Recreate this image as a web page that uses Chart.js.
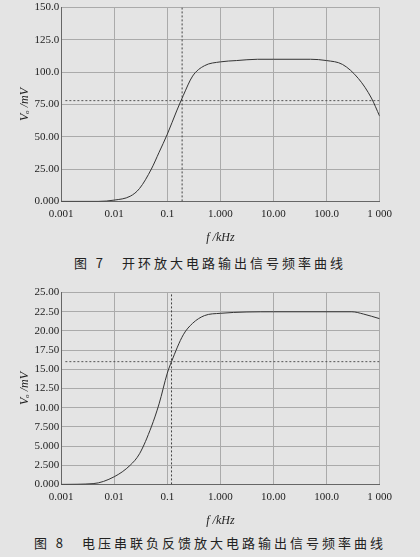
<!DOCTYPE html><html><head><meta charset="utf-8">
<script src="https://cdn.jsdelivr.net/npm/chart.js@4"></script>
<style>
body{margin:0;background:#e4e4e4;width:420px;height:557px;overflow:hidden;font-family:"Liberation Serif",serif;}
.c{position:absolute;left:0;width:398px;}
.cap{position:absolute;left:0;width:420px;text-align:center;font-family:"Noto Sans CJK SC";font-size:13px;color:#222;letter-spacing:3px}
</style></head><body>
<div class="c" style="top:-1px;height:250px"><canvas id="c1"></canvas></div>
<div class="cap" style="top:253px">图 7　开环放大电路输出信号频率曲线</div>
<div class="c" style="top:284px;height:248px"><canvas id="c2"></canvas></div>
<div class="cap" style="top:533px">图 8　电压串联负反馈放大电路输出信号频率曲线</div>
<script>
const freq1=[0.001,0.005,0.01,0.02,0.03,0.05,0.07,0.1,0.15,0.2,0.3,0.5,1,2,5,10,50,100,200,400,700,1000];
const volt1=[0,0,1,4,10,25,38,52,70,82,97,105,108,109,110,110,110,109,106,95,80,66];
const freq2=[0.001,0.004,0.01,0.02,0.03,0.05,0.07,0.1,0.12,0.2,0.3,0.5,1,10,300,500,1000];
const volt2=[0,0.1,1,2.5,4,7.5,10.5,14.5,16,19.5,21,22,22.3,22.5,22.5,22.2,21.6];
const xTicks=[0.001,0.01,0.1,1,10,100,1000];
const xLabels=["0.001","0.01","0.1","1.000","10.00","100.0","1 000"];
const yTicks1=["0.000","25.00","50.00","75.00","100.0","125.0","150.0"];
const yTicks2=["0.000","2.500","5.000","7.500","10.00","12.50","15.00","17.50","20.00","22.50","25.00"];
const cursor1={f:0.19,v:78}, cursor2={f:0.12,v:16};
function mk(id,fr,vo,ymax,step,ylab,cur){
  const pts=fr.map((f,i)=>({x:f,y:vo[i]}));
  new Chart(document.getElementById(id),{type:'scatter',data:{datasets:[
    {data:pts,showLine:true,borderColor:'#333',borderWidth:1,pointRadius:0,cubicInterpolationMode:'monotone'},
    {data:[{x:cur.f,y:0},{x:cur.f,y:ymax}],showLine:true,borderColor:'#444',borderWidth:1,borderDash:[2,2],pointRadius:0},
    {data:[{x:0.0012,y:cur.v},{x:1000,y:cur.v}],showLine:true,borderColor:'#555',borderWidth:1,borderDash:[2,2],pointRadius:0}
  ]},options:{responsive:true,maintainAspectRatio:false,animation:false,
    layout:{padding:{top:6,right:6,left:18}},
    plugins:{legend:{display:false},tooltip:{enabled:false}},
    scales:{x:{type:'logarithmic',min:0.001,max:1000,
      afterBuildTicks:a=>{a.ticks=xTicks.map(v=>({value:v}));},
      ticks:{callback:(v)=>xLabels[xTicks.indexOf(v)],color:'#222',font:{family:'Liberation Serif',size:11},maxRotation:0,autoSkip:false,padding:6},
      grid:{color:'#aaa',drawTicks:false},border:{color:'#666'},
      title:{display:true,text:'f /kHz',color:'#222',font:{family:'Liberation Serif',size:12,style:'italic'}}},
     y:{min:0,max:ymax,ticks:{stepSize:step,callback:(v,i,t)=>ylab[Math.round(v/step)],color:'#222',font:{family:'Liberation Serif',size:11},padding:2},
      grid:{color:'#aaa',drawTicks:false},border:{color:'#666'},
      title:{display:true,text:'Vₒ /mV',color:'#222',font:{family:'Liberation Serif',size:12,style:'italic'},padding:0}}}}});
}
mk('c1',freq1,volt1,150,25,yTicks1,cursor1);
mk('c2',freq2,volt2,25,2.5,yTicks2,cursor2);
</script></body></html>
